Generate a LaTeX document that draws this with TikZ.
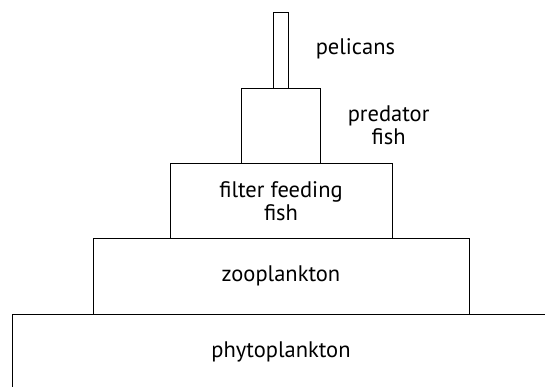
\documentclass[tikz,border=0pt]{standalone}
\usepackage{fontspec}
\setsansfont{PT Sans}
\usepackage{tikz}
\usetikzlibrary{positioning}
\tikzset{
  tierbox/.style={
    draw, line width=0.8pt, inner sep=0pt, align=center,
    font=\sffamily\fontsize{22.5}{23}\selectfont
  },
  tierlabel/.style={
    align=center, inner sep=0pt,
    font=\sffamily\fontsize{22.5}{23}\selectfont
  },
}
\begin{document}
\begin{tikzpicture}[x=1pt, y=-1pt]
  \useasboundingbox (0,0) rectangle (545,386);
  \clip (0,0) rectangle (545,386);

  % --- pyramid tiers, bottom up ---
  \node[tierbox, minimum width=538, minimum height=76] (phyto) at (281,352)
    {phytoplankton};
  \node[tierbox, minimum width=376, minimum height=75.3] (zoo) at (281,276.3)
    {zooplankton};
  \node[tierbox, minimum width=222, minimum height=75.7] (filter) at (281,200.9)
    {filter feeding\\fish};
  \node[tierbox, minimum width=79, minimum height=75] (predator) at (281,125.5)
    {};
  \node[tierbox, minimum width=14.5, minimum height=75.7] (pelican) at (280.8,50.2)
    {};

  % labels beside the narrow tiers
  \node[tierlabel] (predlabel) at (388.6,125) {predator\\fish};
  \node[tierlabel] (pelilabel) at (355.4,49) {pelicans};
\end{tikzpicture}
\end{document}
